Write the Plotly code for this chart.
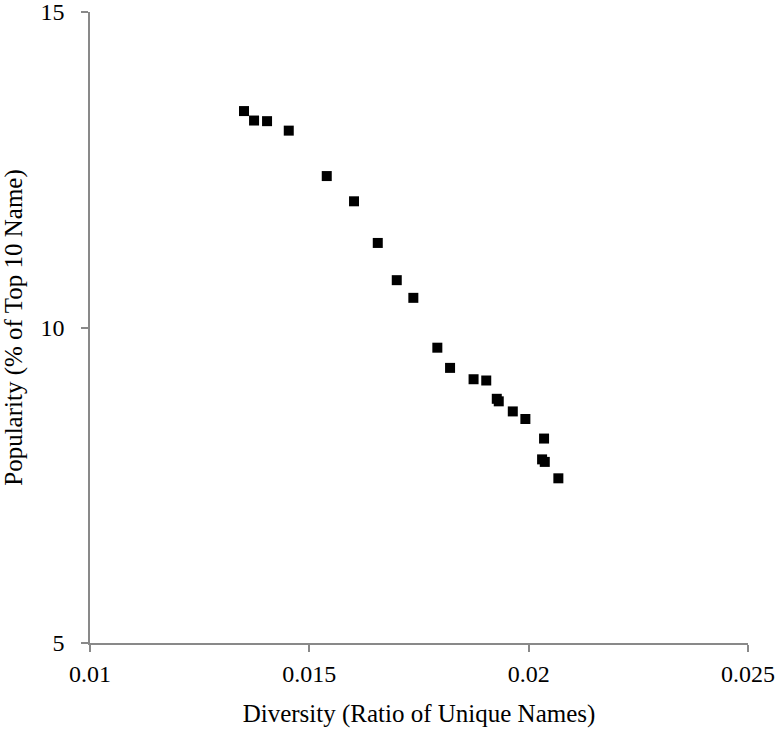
import plotly.graph_objects as go

diversity = [0.013511, 0.013740, 0.014036, 0.014531, 0.015397, 0.016019, 0.016560,
             0.016993, 0.017371, 0.017918, 0.018208, 0.018744, 0.019033, 0.019273,
             0.019318, 0.019638, 0.019925, 0.020351, 0.020306, 0.020367, 0.020677]
popularity = [13.43, 13.28, 13.27, 13.12, 12.40, 12.00, 11.34,
              10.75, 10.47, 9.68, 9.36, 9.18, 9.16, 8.87,
              8.83, 8.67, 8.55, 8.24, 7.91, 7.87, 7.61]

x_ticks = [0.01, 0.015, 0.02, 0.025]
x_tick_labels = ["0.01", "0.015", "0.02", "0.025"]
y_ticks = [5, 10, 15]
y_tick_labels = ["5", "10", "15"]

fig = go.Figure()
fig.add_trace(go.Scatter(
    x=diversity, y=popularity, mode="markers",
    marker=dict(symbol="square", size=10, color="black", line=dict(width=0)),
    showlegend=False, hoverinfo="skip"))

axis_color = "#898989"
tick_font = dict(family="Liberation Serif", size=24, color="black")
title_font = dict(family="Liberation Serif", size=25, color="black")

fig.update_layout(
    width=779, height=732,
    margin=dict(l=90, r=31, t=12, b=89),
    paper_bgcolor="white", plot_bgcolor="white",
    font=tick_font,
    xaxis=dict(
        range=[0.01, 0.025], tickvals=x_ticks, ticktext=x_tick_labels,
        showgrid=False, zeroline=False, showline=True, linecolor=axis_color, linewidth=1.5,
        ticks="outside", ticklen=7, tickwidth=1.5, tickcolor=axis_color,
        tickfont=tick_font, automargin=False, ticklabelstandoff=1,
        ticklabeloverflow="allow",
        title=dict(text="Diversity (Ratio of Unique Names)", font=title_font, standoff=19),
    ),
    yaxis=dict(
        range=[5, 15], tickvals=y_ticks, ticktext=y_tick_labels,
        showgrid=False, zeroline=False, showline=True, linecolor=axis_color, linewidth=1.5,
        ticks="outside", ticklen=7, tickwidth=1.5, tickcolor=axis_color,
        tickfont=tick_font, ticklabelstandoff=12, automargin=False,
        ticklabeloverflow="allow",
        title=dict(text="Popularity (% of Top 10 Name)", font=title_font, standoff=12),
    ),
)

fig.write_html("out.html")
